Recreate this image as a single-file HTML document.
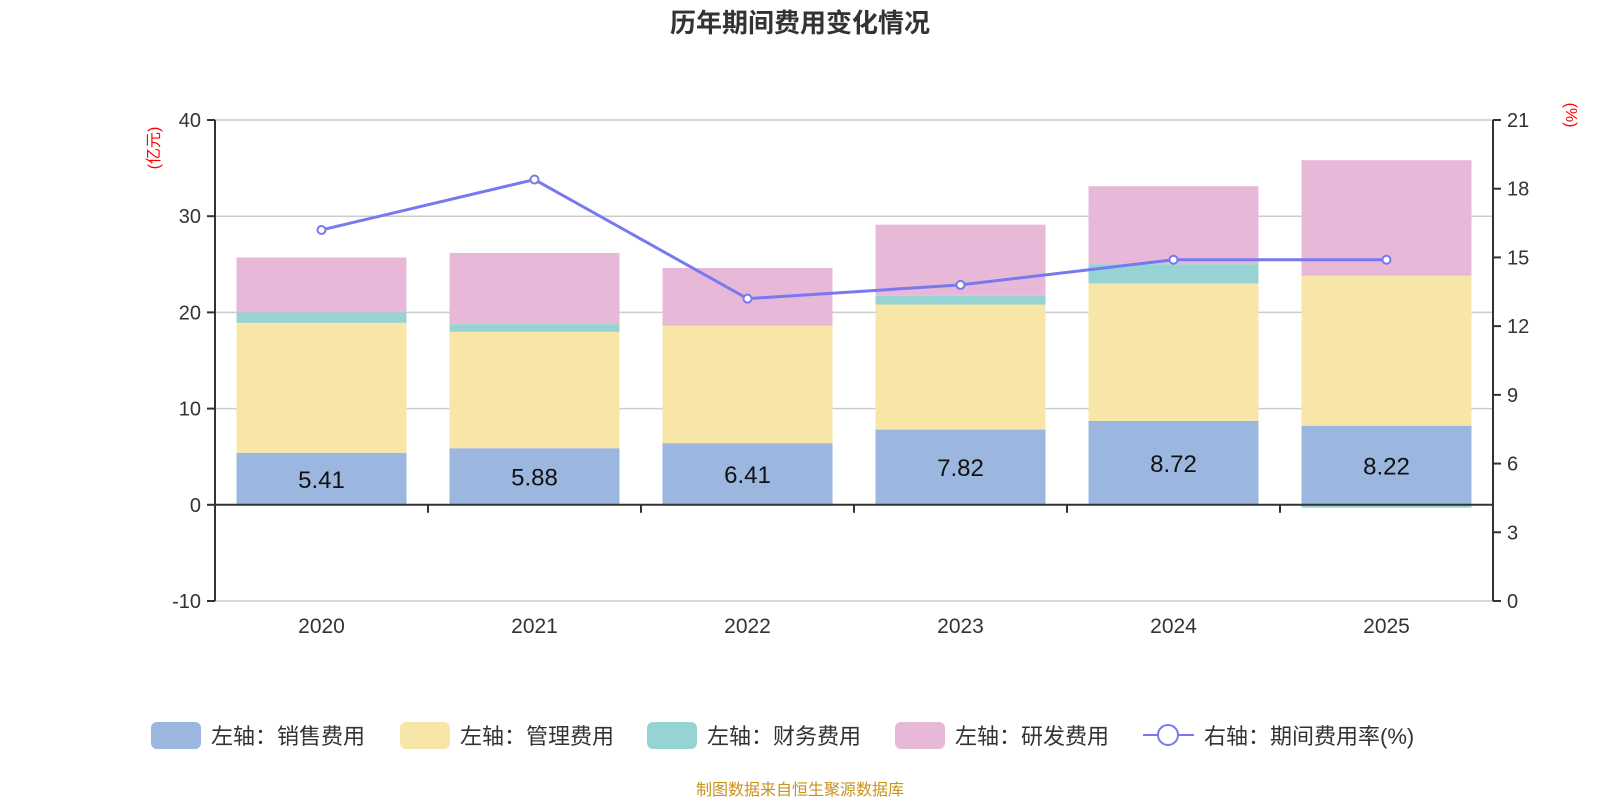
<!DOCTYPE html>
<html><head><meta charset="utf-8"><style>
body{margin:0;background:#fff;}
text{font-family:"Liberation Sans","Noto Sans CJK SC",sans-serif;}
</style></head><body>
<svg id="c" width="1600" height="800" xmlns="http://www.w3.org/2000/svg"></svg>
<script>
const categories=["2020","2021","2022","2023","2024","2025"];
const sales=[5.41,5.88,6.41,7.82,8.72,8.22];
const admin=[13.5,12.1,12.2,13.0,14.3,15.6];
const finance=[1.1,0.8,-0.1,0.9,2.0,-0.3];
const rnd=[5.7,7.4,6.0,7.4,8.1,12.0];
const rate=[16.2,18.4,13.2,13.8,14.9,14.9];
const leftTicks=[-10,0,10,20,30,40];
const rightTicks=[0,3,6,9,12,15,18,21];
const svg=document.getElementById('c');const NS="http://www.w3.org/2000/svg";
function el(t,a,p){const e=document.createElementNS(NS,t);for(const k in a)e.setAttribute(k,a[k]);(p||svg).appendChild(e);return e;}
const X0=215,X1=1493,YT=120,YB=601;
const yL=v=>YB-(v+10)/50*(YB-YT);
const yR=v=>YB-v/21*(YB-YT);
const step=(X1-X0)/categories.length;
const xc=i=>X0+step*(i+0.5);
let t=el('text',{x:800,y:32,'text-anchor':'middle','font-size':26,'font-weight':'bold',fill:'#333'});t.textContent="历年期间费用变化情况";

leftTicks.forEach(v=>{const g=el('line',{x1:X0,x2:X1,y1:yL(v),y2:yL(v),stroke:'#ccc','stroke-width':1.5});

el('line',{x1:X0-8,x2:X0,y1:yL(v),y2:yL(v),stroke:'#333','stroke-width':2});
const l=el('text',{x:X0-14,y:yL(v)+7,'text-anchor':'end','font-size':20,fill:'#333'});l.textContent=v;
});
rightTicks.forEach(v=>{el('line',{x1:X1,x2:X1+8,y1:yR(v),y2:yR(v),stroke:'#333','stroke-width':2});
const l=el('text',{x:X1+14,y:yR(v)+7,'font-size':20,fill:'#333'});l.textContent=v;
});
const colors=['#9bb7e0','#f8e6a8','#96d4d4','#e7b8d8'];
const series=[sales,admin,finance,rnd];
const bw=170;
categories.forEach((c,i)=>{let pos=0,neg=0;
series.forEach((s,k)=>{const v=s[i];let a,b;if(v>=0){a=pos;b=pos+v;pos=b;}else{a=neg;b=neg+v;neg=b;}
const r=el('rect',{x:xc(i)-bw/2,y:Math.min(yL(a),yL(b)),width:bw,height:Math.abs(yL(a)-yL(b)),fill:colors[k]});
});
const l=el('text',{x:xc(i),y:(yL(0)+yL(sales[i]))/2+9,'text-anchor':'middle','font-size':24,fill:'#111'});l.textContent=sales[i].toFixed(2);

const xl=el('text',{x:xc(i),y:633,'text-anchor':'middle','font-size':21,fill:'#333'});xl.textContent=c;

el('line',{x1:X0+step*(i+1),x2:X0+step*(i+1),y1:yL(0),y2:yL(0)+8,stroke:'#333','stroke-width':2});});
el('line',{x1:X0,x2:X0,y1:YT,y2:YB,stroke:'#333','stroke-width':2});
el('line',{x1:X1,x2:X1,y1:YT,y2:YB,stroke:'#333','stroke-width':2});
el('line',{x1:X0,x2:X1,y1:yL(0),y2:yL(0),stroke:'#333','stroke-width':2});
const ln=el('polyline',{points:rate.map((v,i)=>xc(i)+','+yR(v)).join(' '),fill:'none',stroke:'#7878f0','stroke-width':3});

rate.forEach((v,i)=>{const p=el('circle',{cx:xc(i),cy:yR(v),r:4,fill:'#fff',stroke:'#7878f0','stroke-width':2});
});
let u=el('text',{x:0,y:0,'font-size':16,fill:'red','text-anchor':'middle',transform:'translate(159,148) rotate(-90)'});u.textContent="(亿元)";

u=el('text',{x:0,y:0,'font-size':16,fill:'red','text-anchor':'middle',transform:'translate(1566,115) rotate(90)'});u.textContent="(%)";

const leg=["左轴：销售费用","左轴：管理费用","左轴：财务费用","左轴：研发费用"];
const lx=[151,400,647,895];
leg.forEach((s,k)=>{const r=el('rect',{x:lx[k],y:722,width:50,height:27,rx:6,fill:colors[k]});

const tt=el('text',{x:lx[k]+60,y:744,'font-size':22,fill:'#333'});tt.textContent=s;
});
el('line',{x1:1143,x2:1194,y1:735,y2:735,stroke:'#7878f0','stroke-width':2});
el('circle',{cx:1168,cy:735,r:10,fill:'#fff',stroke:'#7878f0','stroke-width':2});
const tt=el('text',{x:1204,y:744,'font-size':22,fill:'#333'});tt.textContent="右轴：期间费用率(%)";

const src=el('text',{x:800,y:795,'text-anchor':'middle','font-size':16,fill:'#c8921e'});src.textContent="制图数据来自恒生聚源数据库";

</script></body></html>
